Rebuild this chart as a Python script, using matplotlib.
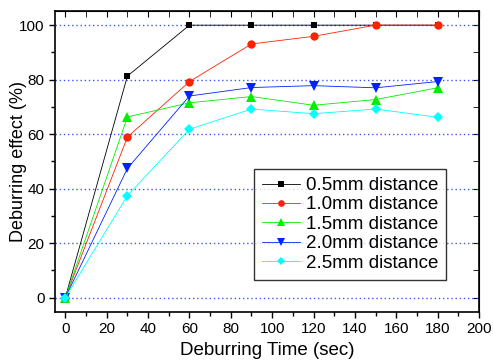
import matplotlib
matplotlib.use('Agg')
import matplotlib.pyplot as plt
from matplotlib.ticker import MultipleLocator

plt.rcParams['font.family'] = ['Liberation Sans', 'DejaVu Sans']

times = [0, 30, 60, 90, 120, 150, 180]
d05 = [0, 81.3, 100, 100, 100, 100, 100]
d10 = [0, 58.9, 79.3, 93.1, 95.9, 100, 100]
d15 = [0, 66.3, 71.5, 73.8, 70.6, 72.7, 77.0]
d20 = [0, 47.4, 74.0, 77.1, 77.8, 77.0, 79.3]
d25 = [0, 37.4, 61.8, 69.2, 67.5, 69.2, 66.2]

labels = ['0.5mm distance', '1.0mm distance', '1.5mm distance',
          '2.0mm distance', '2.5mm distance']
series = [d05, d10, d15, d20, d25]
colors = ['black', '#ff2200', '#00ee00', '#0022ff', '#00ffff']
markers = ['s', 'o', '^', 'v', 'D']
msizes = [5, 6, 6.5, 6.5, 5]

fig = plt.figure(figsize=(4.93, 3.61), dpi=100)
ax = fig.add_axes([55 / 493, 1 - 312 / 361, (479 - 55) / 493, (312 - 11) / 361])

for ys, c, m, ms, lab in zip(series, colors, markers, msizes, labels):
    ax.plot(times, ys, color=c, marker=m, markersize=ms, linewidth=0.6,
            markeredgewidth=0, label=lab)

ax.set_xlim(-5, 200)
ax.set_ylim(-5.3, 105.2)
ax.xaxis.set_major_locator(MultipleLocator(20))
ax.xaxis.set_minor_locator(MultipleLocator(10))
ax.yaxis.set_major_locator(MultipleLocator(20))
ax.yaxis.set_minor_locator(MultipleLocator(10))
ax.grid(axis='y', which='major', color='#4455ee', linestyle=(0, (1, 2)), linewidth=1)
ax.set_axisbelow(True)

ax.tick_params(which='both', direction='out', labelsize=11, width=1,
               top=False, right=False)
ax.tick_params(which='major', length=4)
ax.tick_params(which='minor', length=3)
for sp in ax.spines.values():
    sp.set_linewidth(1.2)

# mirrored inner ticks on top / right
ax2 = ax.secondary_xaxis('top')
ax2.xaxis.set_major_locator(MultipleLocator(20))
ax2.xaxis.set_minor_locator(MultipleLocator(10))
ax2.tick_params(which='both', direction='in', labeltop=False, length=4)
ax3 = ax.secondary_yaxis('right')
ax3.yaxis.set_major_locator(MultipleLocator(20))
ax3.yaxis.set_minor_locator(MultipleLocator(10))
ax3.tick_params(which='both', direction='in', labelright=False, length=4)

ax.set_xlabel('Deburring Time (sec)', fontsize=13.5, labelpad=4)
ax.set_ylabel('Deburring effect (%)', fontsize=13, va='center')
ax.yaxis.set_label_coords(-36 / 424, 0.5)

leg = ax.legend(loc='lower left', bbox_to_anchor=((254 - 55) / 424, (312 - 280) / 301),
                fontsize=13.5, frameon=True, fancybox=False, borderaxespad=0,
                handlelength=2.0, handletextpad=0.3, labelspacing=0.12,
                borderpad=0.45, markerscale=0.8)
leg.get_frame().set_edgecolor('black')
leg.get_frame().set_linewidth(1)

fig.savefig('out.png', dpi=100)
